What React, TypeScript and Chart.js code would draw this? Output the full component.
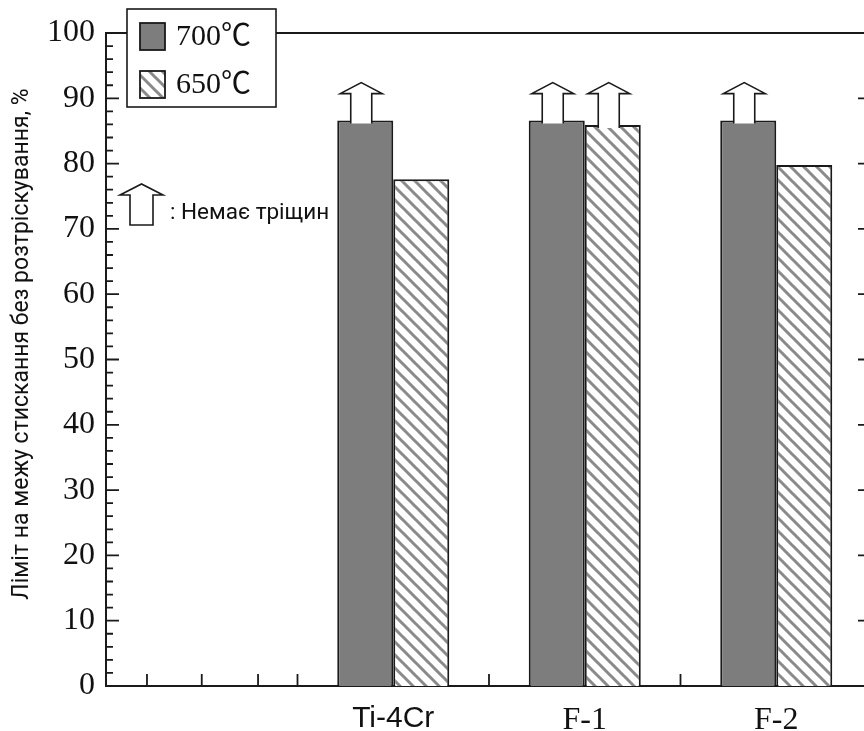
import React, { useEffect, useRef } from 'react';
import { Chart, registerables } from 'chart.js';

Chart.register(...registerables);

const categories = ['', 'Ti-4Cr', 'F-1', 'F-2'];
const values700 = [0, 86.6, 86.6, 86.6];
const values650 = [0, 77.6, 85.9, 79.8];
const noCrack700 = [false, true, true, true];
const noCrack650 = [false, false, true, false];
const seriesLabels = ['700℃', '650℃'];
const yTitle = 'Ліміт на межу стискання без розтріскування, %';
const noteText = ': Немає тріщин';
const arrowTipValue = 92.4;

const SERIF = '"Liberation Serif", "Times New Roman", serif';
const LEGEND_FONT = '"Liberation Serif", "Noto Sans CJK JP", serif';
const SANS = '"Liberation Sans", Arial, sans-serif';
const ROBOTO = 'Roboto, "Liberation Sans", sans-serif';
const INK = '#1a1a1a';
const DARK = '#7d7d7d';

function makeHatch(): CanvasPattern {
  const s = 13;
  const c = document.createElement('canvas');
  c.width = s;
  c.height = s;
  const g = c.getContext('2d')!;
  g.fillStyle = '#ffffff';
  g.fillRect(0, 0, s, s);
  g.strokeStyle = '#8a8a8a';
  g.lineWidth = 3;
  g.beginPath();
  for (let k = -1; k <= 1; k++) {
    g.moveTo(-2, k * s - 2);
    g.lineTo(s + 2, s + k * s + 2);
  }
  g.stroke();
  return g.createPattern(c, 'repeat')!;
}

function drawArrow(
  ctx: CanvasRenderingContext2D,
  cx: number,
  tipY: number,
  headY: number,
  bottomY: number,
  headHalf: number,
  shaftHalf: number,
  closed: boolean
) {
  ctx.save();
  ctx.beginPath();
  ctx.moveTo(cx - shaftHalf, bottomY);
  ctx.lineTo(cx - shaftHalf, headY);
  ctx.lineTo(cx - headHalf, headY);
  ctx.lineTo(cx, tipY);
  ctx.lineTo(cx + headHalf, headY);
  ctx.lineTo(cx + shaftHalf, headY);
  ctx.lineTo(cx + shaftHalf, bottomY);
  if (closed) ctx.closePath();
  ctx.fillStyle = '#ffffff';
  ctx.fill();
  ctx.strokeStyle = INK;
  ctx.lineWidth = 1.6;
  ctx.lineJoin = 'miter';
  ctx.stroke();
  ctx.restore();
}

export default function App() {
  const ref = useRef<HTMLCanvasElement | null>(null);

  useEffect(() => {
    if (!ref.current) return;
    const hatch = makeHatch();

    const framePlugin = {
      id: 'frame',
      afterDatasetsDraw(chart: any) {
        const { ctx, chartArea } = chart;
        const ys = chart.scales.y;
        const xs = chart.scales.x;
        const { left, right, top, bottom } = chartArea;
        ctx.save();
        ctx.strokeStyle = INK;
        ctx.lineWidth = 2;
        ctx.beginPath();
        ctx.moveTo(left, top);
        ctx.lineTo(right, top);
        ctx.lineTo(right, bottom);
        ctx.stroke();
        ctx.lineWidth = 1.8;
        ctx.beginPath();
        for (let v = 0; v <= 100; v += 2) {
          const y = ys.getPixelForValue(v);
          const len = v % 10 === 0 ? 13 : 7;
          ctx.moveTo(left, y);
          ctx.lineTo(left + len, y);
          if (v % 10 === 0) {
            ctx.moveTo(right, y);
            ctx.lineTo(right - 14, y);
          }
        }
        const cw = xs.getPixelForValue(1) - xs.getPixelForValue(0);
        const xt: number[] = [];
        for (let i = 0; i < categories.length - 1; i++) xt.push(xs.getPixelForValue(i) + cw / 2);
        const c0 = xs.getPixelForValue(0);
        xt.push(c0 - 0.286 * cw, c0, c0 + 0.294 * cw);
        xt.forEach((x) => {
          ctx.moveTo(x, bottom);
          ctx.lineTo(x, bottom - 12);
        });
        ctx.stroke();
        ctx.restore();

        const flags = [noCrack700, noCrack650];
        const tipY = ys.getPixelForValue(arrowTipValue);
        flags.forEach((arr, di) => {
          const meta = chart.getDatasetMeta(di);
          arr.forEach((f, i) => {
            if (!f) return;
            const bar = meta.data[i];
            drawArrow(ctx, bar.x - 4, tipY, tipY + 11, bar.y + 3, 21, 10.5, false);
          });
        });
      },
      afterDraw(chart: any) {
        const { ctx } = chart;
        ctx.save();
        ctx.translate(22, 344);
        ctx.rotate(-Math.PI / 2);
        ctx.fillStyle = '#111';
        ctx.font = `23px ${ROBOTO}`;
        ctx.textAlign = 'center';
        ctx.textBaseline = 'middle';
        ctx.fillText(yTitle, 0, 0);
        ctx.restore();

        ctx.save();
        ctx.fillStyle = '#ffffff';
        ctx.fillRect(127, 9, 149, 98);
        ctx.strokeStyle = INK;
        ctx.lineWidth = 1.6;
        ctx.strokeRect(127, 9, 149, 98);
        const fills = [DARK, hatch];
        seriesLabels.forEach((lab, i) => {
          const y = 23 + i * 48;
          ctx.fillStyle = fills[i] as any;
          ctx.fillRect(140, y, 25, 27);
          ctx.strokeStyle = INK;
          ctx.lineWidth = 1.8;
          ctx.strokeRect(140, y, 25, 27);
          ctx.fillStyle = '#111';
          ctx.font = `30px ${LEGEND_FONT}`;
          ctx.textAlign = 'left';
          ctx.textBaseline = 'middle';
          ctx.fillText(lab, 176, y + 14);
        });
        ctx.restore();

        drawArrow(ctx, 141.5, 184, 195, 225, 21.5, 11.5, true);
        ctx.save();
        ctx.fillStyle = '#111';
        ctx.font = `22.5px ${ROBOTO}`;
        ctx.textAlign = 'left';
        ctx.textBaseline = 'alphabetic';
        ctx.fillText(noteText, 170, 219);
        ctx.restore();
      },
    };

    const chart = new Chart(ref.current, {
      type: 'bar',
      data: {
        labels: categories,
        datasets: [
          {
            label: seriesLabels[0],
            data: values700,
            backgroundColor: DARK,
            borderColor: INK,
            borderWidth: 2,
            categoryPercentage: 0.585,
            barPercentage: 1.0,
          },
          {
            label: seriesLabels[1],
            data: values650,
            backgroundColor: hatch as any,
            borderColor: INK,
            borderWidth: 2,
            categoryPercentage: 0.585,
            barPercentage: 1.0,
          },
        ],
      },
      options: {
        responsive: false,
        animation: false,
        layout: { padding: { top: 33, right: 8, left: 0, bottom: 0 } },
        plugins: {
          legend: { display: false },
          tooltip: { enabled: false },
        },
        scales: {
          x: {
            grid: { display: false, drawTicks: false },
            border: { display: true, color: INK, width: 2 },
            ticks: {
              padding: 15,
              color: '#111',
              font: (c: any) =>
                c.index === 1
                  ? { family: SANS, size: 30 }
                  : { family: SERIF, size: 32 },
            },
            afterFit: (s: any) => {
              s.height = 45;
            },
          },
          y: {
            min: 0,
            max: 100,
            ticks: {
              stepSize: 10,
              padding: 11,
              color: '#111',
              font: { family: SERIF, size: 32 },
            },
            grid: { display: false, drawTicks: false },
            border: { display: true, color: INK, width: 2 },
            afterFit: (s: any) => {
              s.width = 106;
            },
          },
        },
      },
      plugins: [framePlugin],
    });
    return () => chart.destroy();
  }, []);

  return (
    <div
      style={{
        position: 'fixed',
        left: 0,
        top: 0,
        width: 864,
        height: 731,
        overflow: 'hidden',
        background: '#ffffff',
      }}
    >
      <canvas ref={ref} width={880} height={731} style={{ display: 'block', width: 880, height: 731 }} />
    </div>
  );
}
